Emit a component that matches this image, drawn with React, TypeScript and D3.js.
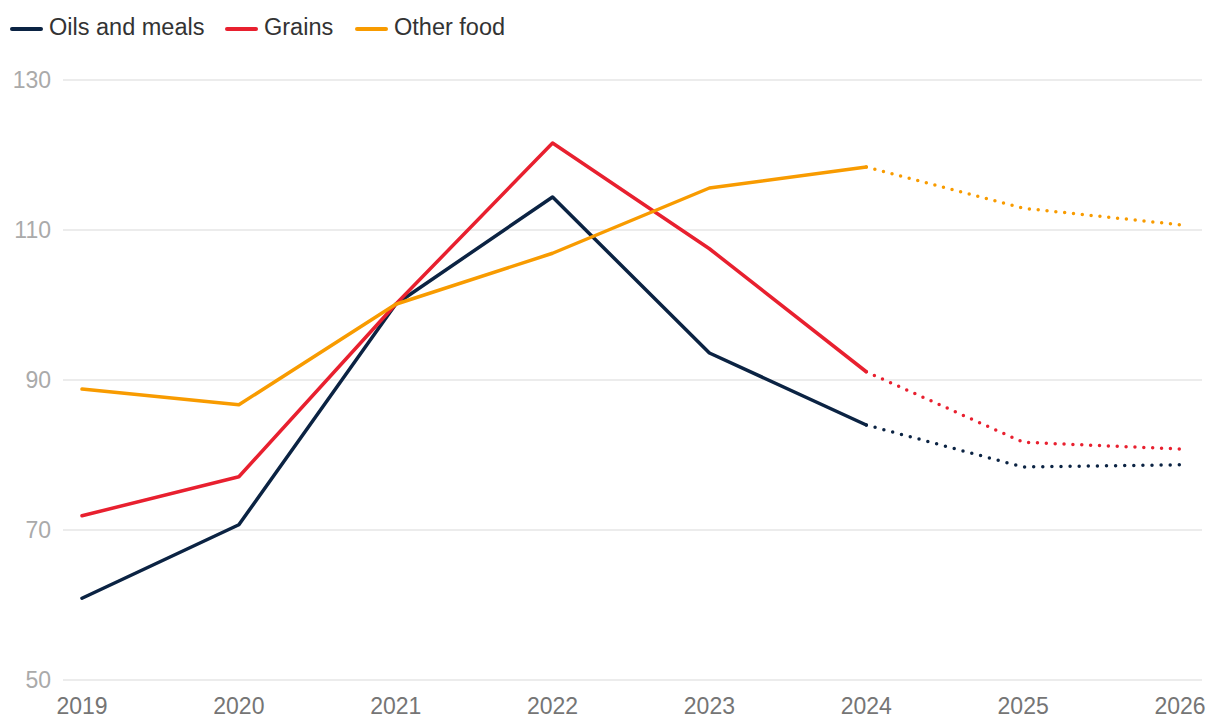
import React, { useEffect, useRef } from "react";
import * as d3 from "d3";

const years = [2019, 2020, 2021, 2022, 2023, 2024, 2025, 2026];
const oilsAndMeals = [60.9, 70.7, 100.1, 114.4, 93.6, 84.0, 78.4, 78.7];
const grains = [71.9, 77.1, 100.1, 121.6, 107.5, 91.1, 81.7, 80.8];
const otherFood = [88.8, 86.7, 100.1, 106.9, 115.6, 118.4, 112.9, 110.7];
const yTicks = [50, 70, 90, 110, 130];
const forecastFrom = 2024;

const seriesList = [
  { name: "Oils and meals", values: oilsAndMeals, color: "#0b2343" },
  { name: "Grains", values: grains, color: "#e8202f" },
  { name: "Other food", values: otherFood, color: "#f89b00" },
];

const W = 1220;
const H = 726;
const FONT = "'Liberation Sans', Arial, Helvetica, sans-serif";

const App = () => {
  const ref = useRef<SVGSVGElement>(null);

  useEffect(() => {
    const svg = d3.select(ref.current);
    svg.selectAll("*").remove();

    const x = d3.scaleLinear().domain([2019, 2026]).range([82, 1180]);
    const y = d3.scaleLinear().domain([50, 130]).range([680, 80]);

    // gridlines + y labels
    const grid = svg.append("g");
    grid
      .selectAll("line")
      .data(yTicks)
      .join("line")
      .attr("x1", 63)
      .attr("x2", 1202)
      .attr("y1", (d) => y(d))
      .attr("y2", (d) => y(d))
      .attr("stroke", "#e6e6e6")
      .attr("stroke-width", 1.5);
    grid
      .selectAll("text")
      .data(yTicks)
      .join("text")
      .attr("x", 51)
      .attr("y", (d) => y(d))
      .attr("dy", "0.35em")
      .attr("text-anchor", "end")
      .attr("fill", "#aaaaaa")
      .style("font-family", FONT)
      .style("font-size", "23px")
      .text((d) => d);

    // x labels
    svg
      .append("g")
      .selectAll("text")
      .data(years)
      .join("text")
      .attr("x", (d) => x(d))
      .attr("y", 714)
      .attr("text-anchor", "middle")
      .attr("fill", "#757575")
      .style("font-family", FONT)
      .style("font-size", "23px")
      .text((d) => d);

    const line = d3
      .line<number>()
      .x((_, i) => x(years[i]))
      .y((d) => y(d));

    const splitIdx = years.indexOf(forecastFrom);

    seriesList.forEach((s) => {
      const actual = s.values.slice(0, splitIdx + 1);
      const forecast = s.values.slice(splitIdx);
      svg
        .append("path")
        .attr("d", line(actual))
        .attr("fill", "none")
        .attr("stroke", s.color)
        .attr("stroke-width", 3.5)
        .attr("stroke-linejoin", "round")
        .attr("stroke-linecap", "round");
      const fl = d3
        .line<number>()
        .x((_, i) => x(years[i + splitIdx]))
        .y((d) => y(d));
      const fp = svg
        .append("path")
        .attr("d", fl(forecast))
        .attr("fill", "none")
        .attr("stroke", s.color)
        .attr("stroke-width", 3.5)
        .attr("stroke-linecap", "round");
      // fit the dot spacing so the last dot sits on the end point
      const len = (fp.node() as SVGPathElement).getTotalLength();
      const n = Math.round(len / 9);
      fp.attr("stroke-dasharray", `0 ${len / n - 0.02}`);
    });

    // legend
    const legendX = [12, 227, 357];
    const legend = svg.append("g");
    seriesList.forEach((s, i) => {
      legend
        .append("line")
        .attr("x1", legendX[i])
        .attr("x2", legendX[i] + 29)
        .attr("y1", 29)
        .attr("y2", 29)
        .attr("stroke", s.color)
        .attr("stroke-width", 4)
        .attr("stroke-linecap", "round");
      legend
        .append("text")
        .attr("x", legendX[i] + 37)
        .attr("y", 27)
        .attr("dy", "0.35em")
        .attr("fill", "#333333")
        .style("font-family", FONT)
        .style("font-size", "23.5px")
        .text(s.name);
    });
  });

  return (
    <svg
      ref={ref}
      width={W}
      height={H}
      style={{ position: "absolute", left: 0, top: 0, background: "#fff" }}
    />
  );
};

export default App;
